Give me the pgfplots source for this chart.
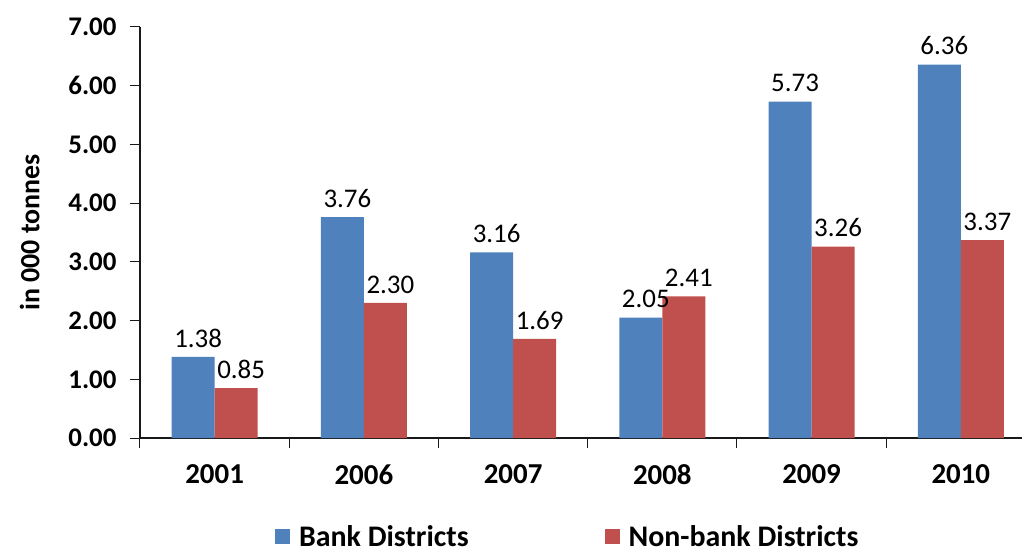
\documentclass[border=0pt]{standalone}
\usepackage{pgfplots}
\pgfplotsset{compat=1.18}
\usepackage{fontspec}
\setmainfont{Carlito}

\definecolor{bankblue}{HTML}{4F81BD}
\definecolor{nonbankred}{HTML}{C0504D}

\begin{document}
\begin{tikzpicture}
\begin{axis}[
    name=ax,
    scale only axis,
    width=882bp, height=411bp,
    ybar=0pt,
    bar width=43bp,
    xmin=-0.5, xmax=5.41,
    ymin=0, ymax=7,
    axis x line*=bottom,
    axis y line*=left,
    axis line style={line width=1.2bp, black!90},
    xtick={0,1,2,3,4,5},
    xticklabels={2001,2006,2007,2008,2009,2010},
    minor xtick={-0.5,0.5,1.5,2.5,3.5,4.5},
    major x tick style={draw=none},
    minor x tick style={line width=1bp, black!90},
    ytick={0,1,2,3,4,5,6,7},
    major y tick style={line width=1bp, black!90},
    tick align=outside,
    major tick length=10bp,
    minor tick length=10bp,
    /pgf/number format/assume math mode=true,
    yticklabel={\pgfmathprintnumber[fixed,fixed zerofill,precision=2]{\tick}},
    yticklabel style={font=\bfseries\fontsize{27}{30}\selectfont, xshift=-10bp},
    xticklabel style={font=\bfseries\fontsize{29}{32}\selectfont, yshift=-13bp},
    ylabel={in 000 tonnes},
    ylabel style={font=\bfseries\fontsize{28}{31}\selectfont, yshift=22bp},
    nodes near coords,
    nodes near coords style={font=\fontsize{27}{30}\selectfont,
      yshift=6bp, xshift=5bp,
      /pgf/number format/.cd, fixed, fixed zerofill, precision=2},
    legend columns=2,
    legend style={draw=none, at={(0.485,-0.24)}, anchor=center,
      font=\bfseries\fontsize{30}{32}\selectfont,
      /tikz/every odd column/.append style={column sep=7bp},
      /tikz/every even column/.append style={column sep=134bp}},
    legend image code/.code={\fill[#1] (0bp,-7bp) rectangle (15bp,8bp);},
    clip=false,
]
\addplot[fill=bankblue, draw=none] coordinates {
    (0,1.38) (1,3.76) (2,3.16) (3,2.05) (4,5.73) (5,6.36)
};
\addplot[fill=nonbankred, draw=none] coordinates {
    (0,0.85) (1,2.30) (2,1.69) (3,2.41) (4,3.26) (5,3.37)
};
\legend{Bank Districts, Non-bank Districts}
\end{axis}
\pgfresetboundingbox
\useasboundingbox ([xshift=-140bp,yshift=27bp]ax.north west)
  rectangle ([xshift=5bp,yshift=-115bp]ax.south east);
\end{tikzpicture}
\end{document}
